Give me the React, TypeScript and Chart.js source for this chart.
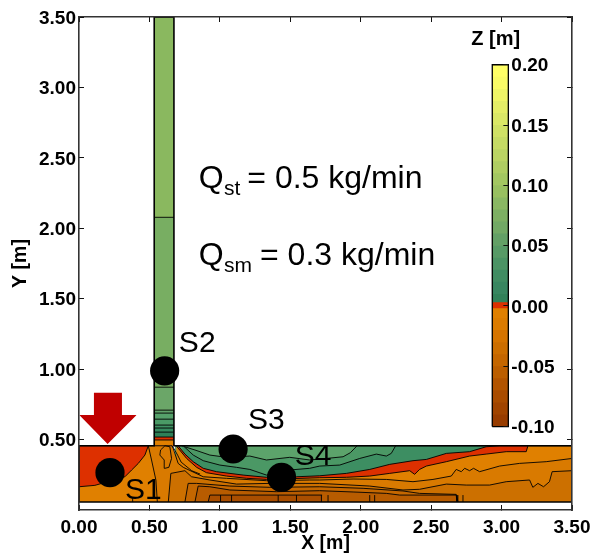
import React, { useEffect, useRef } from "react";
import { Chart, registerables } from "chart.js";

Chart.register(...registerables);

const FONT = "'Liberation Sans', Arial, sans-serif";

const xTicks = [0, 0.5, 1, 1.5, 2, 2.5, 3, 3.5];
const yTicks = [0.5, 1, 1.5, 2, 2.5, 3, 3.5];
const zTicks = [-0.1, -0.05, 0, 0.05, 0.1, 0.15, 0.2];

const channelBottom = 0.057;
const channelTop = 0.456;
const columnLeft = 0.534;
const columnRight = 0.674;
const barLeft = 2.934;
const barRight = 3.048;

// Column bands: upper edge of each band, top to bottom
const columnTops = [3.5, 2.078, 0.872, 0.709, 0.688, 0.645, 0.603, 0.582, 0.553, 0.518, 0.497];
const columnColors = ["#8ab85f", "#78ae62", "#6ba668", "#60a26a", "#55a06a", "#4a9a66", "#3f9163", "#358a5f", "#2e8058", "#dd3000", "#e08000"];

// Green contours in the channel
const green1X = [0.68, 3.5];
const green1Y = [0.456, 0.456];
const green2X = [0.728, 0.823, 0.929, 1.047, 1.213, 1.331, 1.496, 1.638, 1.756, 1.875, 1.927, 1.974, 3.5];
const green2Y = [0.456, 0.426, 0.39, 0.374, 0.383, 0.355, 0.374, 0.355, 0.366, 0.378, 0.407, 0.456, 0.456];
const green3X = [0.74, 0.811, 0.882, 1.0, 1.118, 1.213, 1.331, 1.496, 1.638, 1.709, 1.851, 1.993, 2.111, 2.182, 2.217, 2.248, 3.5];
const green3Y = [0.456, 0.39, 0.35, 0.319, 0.303, 0.288, 0.248, 0.284, 0.296, 0.312, 0.319, 0.366, 0.397, 0.383, 0.402, 0.456, 0.456];

// Red band
const redTopX = [0.704, 0.752, 0.811, 0.882, 0.976, 1.165, 1.331, 1.544, 1.709, 1.898, 2.064, 2.206, 2.371, 2.466, 2.608, 2.773, 2.891, 2.986, 3.5];
const redTopY = [0.456, 0.397, 0.343, 0.296, 0.272, 0.248, 0.232, 0.236, 0.243, 0.26, 0.288, 0.324, 0.35, 0.359, 0.402, 0.414, 0.449, 0.456, 0.456];
const redLeftX = [0, 0.492];
const redLeftY = [0.456, 0.456];

// Orange regions
const orangeX = [0.69, 0.764, 0.835, 0.905, 1.047, 1.189, 1.331, 1.496, 1.709, 1.898, 2.064, 2.206, 2.348, 2.383, 2.418, 2.466, 2.608, 2.773, 2.891, 3.033, 3.175, 3.187, 3.5];
const orangeY = [0.456, 0.366, 0.303, 0.265, 0.241, 0.225, 0.217, 0.222, 0.229, 0.232, 0.241, 0.26, 0.279, 0.253, 0.288, 0.312, 0.343, 0.383, 0.397, 0.414, 0.414, 0.456, 0.456];
const orangeLeftX = [0, 0.113, 0.326, 0.374, 0.421, 0.468, 0.492, 0.515, 0.546, 0.556];
const orangeLeftY = [0.165, 0.175, 0.236, 0.284, 0.331, 0.39, 0.456, 0.355, 0.212, 0.057];

const contour1X = [0.49, 0.66, 0.669, 0.704, 0.74, 0.882, 1.047, 1.331, 1.638, 1.709, 1.946, 2.182, 2.371, 2.513, 2.643, 2.678, 2.714, 2.738, 2.773, 2.801, 2.844, 2.986, 3.128, 3.317, 3.5];
const contour1Y = [0.456, 0.456, 0.437, 0.331, 0.303, 0.236, 0.225, 0.208, 0.213, 0.213, 0.22, 0.217, 0.201, 0.217, 0.241, 0.288, 0.272, 0.296, 0.279, 0.296, 0.272, 0.312, 0.331, 0.343, 0.366];
const contour2X = [0.634, 0.652, 0.752, 0.799, 0.929, 1.118, 1.355, 1.709, 2.064, 2.3, 2.418, 2.608, 2.749, 2.915, 3.033, 3.199, 3.222, 3.258, 3.298, 3.34, 3.359, 3.5];
const contour2Y = [0.057, 0.26, 0.279, 0.236, 0.213, 0.184, 0.189, 0.189, 0.17, 0.142, 0.147, 0.184, 0.177, 0.177, 0.201, 0.213, 0.161, 0.189, 0.165, 0.201, 0.272, 0.279];
const contour3X = [0.752, 0.775, 0.835, 1.071, 1.355, 1.709, 2.017, 2.3, 2.418, 2.678, 2.69];
const contour3Y = [0.057, 0.189, 0.189, 0.17, 0.161, 0.165, 0.154, 0.135, 0.118, 0.111, 0.059];
const contour4X = [0.823, 0.846, 0.929, 1.071, 1.402, 1.709, 1.946, 2.182, 2.277, 2.678, 2.683];
const contour4Y = [0.057, 0.17, 0.165, 0.142, 0.13, 0.137, 0.128, 0.118, 0.106, 0.106, 0.059];
const contour5X = [0.917, 0.929, 1.726];
const contour5Y = [0.057, 0.106, 0.106];

const blobX = [0.579, 0.61, 0.645, 0.657, 0.638, 0.61, 0.605, 0.574, 0.579];
const blobY = [0.426, 0.456, 0.449, 0.366, 0.303, 0.296, 0.355, 0.39, 0.426];
const neckX = [0.662, 0.7, 0.725, 0.8, 0.86];
const neckY = [0.456, 0.39, 0.34, 0.279, 0.255];
const stubX = [0.381, 1.005, 1.083, 1.414, 1.544, 1.721, 1.768, 2.064, 2.099, 2.69, 2.726];
const stubTop = [0.083, 0.106, 0.106, 0.106, 0.106, 0.106, 0.106, 0.106, 0.106, 0.106, 0.106];

// Inlet arrow
const arrowTopX = [0.002, 0.106, 0.106, 0.305, 0.305, 0.409];
const arrowTopY = [0.674, 0.674, 0.832, 0.832, 0.674, 0.674];
const arrowTipX = [0.002, 0.203, 0.409];
const arrowTipY = [0.674, 0.468, 0.674];

// Sensors
const sensorNames = ["S1", "S2", "S3", "S4"];
const sensorX = [0.22, 0.608, 1.094, 1.438];
const sensorY = [0.265, 0.988, 0.433, 0.232];
const sensorLabelX = [0.326, 0.709, 1.199, 1.532];
const sensorLabelY = [0.078, 1.123, 0.573, 0.319];

// Colour bar: upper edge of each band, from the top
const barLevels = [0.2, 0.19, 0.18, 0.17, 0.16, 0.15, 0.14, 0.13, 0.12, 0.11, 0.1, 0.09, 0.08, 0.07, 0.06, 0.05, 0.04, 0.03, 0.02, 0.01, 0.003, -0.002, -0.01, -0.02, -0.03, -0.04, -0.05, -0.06, -0.07, -0.08, -0.09];
const barColors = ["#ffff66", "#f9fb66", "#eff566", "#e4ee66", "#dae866", "#cfe165", "#c5db64", "#bad463", "#afcd62", "#a3c761", "#98c060", "#8ab863", "#7daf63", "#72a965", "#63a066", "#579a66", "#4b9364", "#408c62", "#388660", "#318159", "#dd3000", "#e08000", "#dc7c00", "#d57400", "#cc6e00", "#c46600", "#bb5e00", "#b25400", "#a94c00", "#a04400", "#973c00"];

const pts = (xs: number[], ys: number[]) => xs.map((x, i) => ({ x, y: ys[i] }));

const area = (xs: number[], ys: number[], color: string, target = channelBottom, extra: any = {}) => ({
  data: pts(xs, ys),
  backgroundColor: color,
  borderColor: "#000",
  borderWidth: 0.9,
  fill: { target: { value: target } },
  ...extra,
});
const stroke = (xs: number[], ys: (number | null)[], width = 0.9, extra: any = {}) => ({
  data: xs.map((x, i) => ({ x, y: ys[i] })),
  borderColor: "#000",
  borderWidth: width,
  fill: false,
  ...extra,
});

function buildDatasets() {
  const list: any[] = [];
  // column
  columnTops.forEach((t, i) => {
    list.push(area([columnLeft, columnRight], [t, t], columnColors[i], channelTop));
  });
  // channel, painted back to front
  list.push(area(green1X, green1Y, "#5ca36b"));
  list.push(area(green2X, green2Y, "#4b9865"));
  list.push(area(green3X, green3Y, "#3d8e62"));
  list.push(area(redTopX, redTopY, "#dd3000"));
  list.push(area(orangeX, orangeY, "#e08000"));
  list.push(area(contour1X, contour1Y, "#d97a00"));
  list.push(area(contour2X, contour2Y, "#cc7000"));
  list.push(area(contour3X, contour3Y, "#c46700"));
  list.push(area(contour4X, contour4Y, "#b85c00"));
  list.push(area(contour5X, contour5Y, "#a94e00"));
  list.push(area(redLeftX, redLeftY, "#dd3000"));
  list.push(area(orangeLeftX, orangeLeftY, "#e08000"));
  list.push(stroke(blobX, blobY));
  list.push(stroke(neckX, neckY));
  const stubXs: number[] = [];
  const stubYs: (number | null)[] = [];
  stubX.forEach((x, i) => {
    stubXs.push(x, x, x);
    stubYs.push(channelBottom, stubTop[i], null);
  });
  list.push(stroke(stubXs, stubYs));
  // outlines
  list.push(stroke([0, columnLeft, columnLeft, columnRight, columnRight, 3.5, 3.5, 0, 0],
    [channelTop, channelTop, 3.5, 3.5, channelTop, channelTop, channelBottom, channelBottom, channelTop], 1.6));
  // arrow
  list.push({ data: pts(arrowTopX, arrowTopY), backgroundColor: "#c00000", borderWidth: 0, fill: "+1" });
  list.push({ data: pts(arrowTipX, arrowTipY), borderWidth: 0, fill: false });
  // sensors
  list.push({
    data: pts(sensorX, sensorY),
    showLine: false,
    pointRadius: 14.6,
    pointBackgroundColor: "#000",
    pointBorderWidth: 0,
  });
  // colour bar
  barLevels.forEach((v, i) => {
    list.push({
      data: pts([barLeft, barRight], [v, v]),
      yAxisID: "yc",
      backgroundColor: barColors[i],
      borderWidth: 0,
      fill: { target: { value: -0.1 } },
    });
  });
  list.push(stroke([barLeft, barRight, barRight, barLeft, barLeft], [-0.1, -0.1, 0.2, 0.2, -0.1], 1.3, { yAxisID: "yc" }));
  const n = list.length;
  list.forEach((d, i) => {
    d.order = n - i;
    d.pointRadius = d.pointRadius ?? 0;
    d.tension = 0;
    d.spanGaps = false;
  });
  return list;
}

const annotate = {
  id: "annotate",
  afterLayout(chart: any) {
    const s = chart.scales.yc;
    s.left = chart.scales.x.getPixelForValue(barRight);
    s.right = chart.width;
  },
  afterDraw(chart: any) {
    const { ctx, scales } = chart;
    const X = (v: number) => scales.x.getPixelForValue(v);
    const Y = (v: number) => scales.y.getPixelForValue(v);
    ctx.save();
    ctx.fillStyle = "#000";
    ctx.textAlign = "left";
    ctx.textBaseline = "alphabetic";
    ctx.font = `30px ${FONT}`;
    sensorNames.forEach((n, i) => ctx.fillText(n, X(sensorLabelX[i]), Y(sensorLabelY[i])));
    const flow = (sub: string, rest: string, yVal: number, restX: number) => {
      ctx.font = `32px ${FONT}`;
      ctx.fillText("Q", X(0.85), Y(yVal));
      ctx.fillText(rest, X(restX), Y(yVal));
      ctx.font = `21px ${FONT}`;
      ctx.fillText(sub, X(1.03), Y(yVal - 0.05));
    };
    flow("st", "= 0.5 kg/min", 2.284, 1.195);
    flow("sm", "= 0.3 kg/min", 1.738, 1.285);
    ctx.font = `bold 20px ${FONT}`;
    ctx.fillText("Z [m]", X(2.785), 45);
    ctx.restore();
  },
};

const axisBase = (ticks: number[]) => ({
  type: "linear" as const,
  min: 0,
  max: 3.5,
  afterBuildTicks: (s: any) => {
    s.ticks = ticks.map((value) => ({ value }));
  },
});
const inwardGrid = { drawOnChartArea: false, tickLength: -5, tickColor: "#111", tickWidth: 1, z: 1 };
const frame = { color: "#333", width: 1.6, z: 1 };
const tickFont = { family: FONT, size: 19, weight: "bold" as const };
const titleFont = { family: FONT, size: 19.5, weight: "bold" as const };

export default function App() {
  const ref = useRef<HTMLCanvasElement | null>(null);
  useEffect(() => {
    document.body.style.margin = "0";
    const chart = new Chart(ref.current as HTMLCanvasElement, {
      type: "line",
      data: { datasets: buildDatasets() },
      plugins: [annotate],
      options: {
        animation: false,
        responsive: false,
        events: [],
        layout: { padding: { top: 17, right: 23, left: 0, bottom: 0 } },
        plugins: { legend: { display: false }, tooltip: { enabled: false } },
        scales: {
          x: {
            ...axisBase(xTicks),
            position: "bottom",
            grid: inwardGrid,
            border: frame,
            ticks: {
              color: "#000",
              font: tickFont,
              padding: 11,
              maxRotation: 0,
              autoSkip: false,
              callback: (v: any) => Number(v).toFixed(2),
            },
            title: { display: true, text: "X [m]", color: "#000", font: titleFont, padding: 0 },
            afterFit: (s: any) => {
              s.height = 45;
              s.paddingLeft = 0;
              s.paddingRight = 0;
            },
          },
          x2: {
            ...axisBase(xTicks),
            position: "top",
            grid: inwardGrid,
            border: frame,
            ticks: { display: false },
            afterFit: (s: any) => {
              s.height = 0;
              s.paddingLeft = 0;
              s.paddingRight = 0;
            },
          },
          y: {
            ...axisBase(yTicks),
            position: "left",
            grid: inwardGrid,
            border: frame,
            ticks: {
              color: "#000",
              font: tickFont,
              padding: 8,
              labelOffset: 1.5,
              autoSkip: false,
              callback: (v: any) => Number(v).toFixed(2),
            },
            title: { display: true, text: "Y [m]", color: "#000", font: titleFont, padding: { top: 9, bottom: 0 } },
            afterFit: (s: any) => {
              s.width = 79;
              s.paddingTop = 0;
              s.paddingBottom = 0;
            },
          },
          y2: {
            ...axisBase(yTicks),
            position: "right",
            grid: inwardGrid,
            border: frame,
            ticks: { display: false },
            afterFit: (s: any) => {
              s.width = 0;
              s.paddingTop = 0;
              s.paddingBottom = 0;
            },
          },
          yc: {
            type: "linear",
            min: -0.1692,
            max: 0.2396,
            position: "right",
            grid: { drawOnChartArea: false, tickLength: -5, tickColor: "#111", tickWidth: 1, z: 2 },
            border: { display: false },
            ticks: {
              color: "#000",
              font: tickFont,
              padding: 8,
              labelOffset: 1.5,
              autoSkip: false,
              callback: (v: any) => Number(v).toFixed(2),
            },
            afterBuildTicks: (s: any) => {
              s.ticks = zTicks.map((value) => ({ value }));
            },
            afterFit: (s: any) => {
              s.width = 0;
              s.paddingTop = 0;
              s.paddingBottom = 0;
            },
          },
        },
      } as any,
    } as any);
    return () => chart.destroy();
  }, []);
  return <canvas ref={ref} width={595} height={555} style={{ display: "block" }} />;
}
